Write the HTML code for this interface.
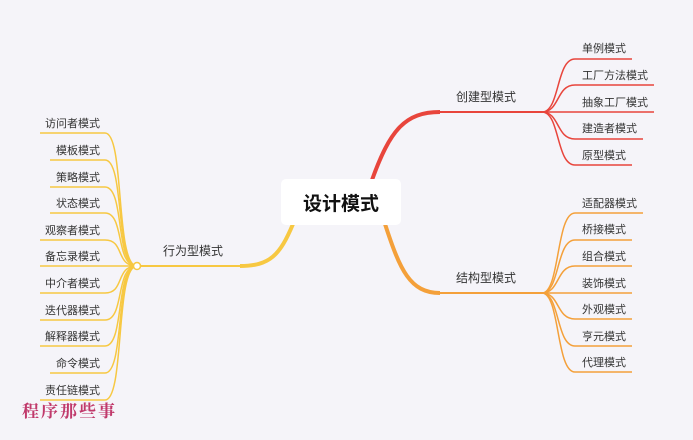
<!DOCTYPE html>
<html><head><meta charset="utf-8"><style>
html,body{margin:0;padding:0;background:#f5f4f9;}
svg{display:block;font-family:"Liberation Sans","Noto Sans CJK SC",sans-serif;}
</style></head><body>
<svg width="693" height="440" viewBox="0 0 693 440">
<rect width="693" height="440" fill="#f5f4f9"/>
<!-- main branches -->
<path d="M372,180 C390,130 405,112 440,112 L542,112" fill="none" stroke="#e8453c" stroke-width="2"/>
<path d="M372,180 C390,130 405,112 440,112" fill="none" stroke="#e8453c" stroke-width="4"/>
<path d="M385,224 C400,270 410,293 440,293 L542,293" fill="none" stroke="#f4a03a" stroke-width="2"/>
<path d="M385,224 C400,270 410,293 440,293" fill="none" stroke="#f4a03a" stroke-width="4"/>
<path d="M293,224 C280,255 270,266 240,266 L137,266" fill="none" stroke="#f7c842" stroke-width="2"/>
<path d="M293,224 C280,255 270,266 240,266" fill="none" stroke="#f7c842" stroke-width="4"/>
<g fill="none" stroke="#e8453c" stroke-width="1.5">
<path d="M542,112 C560,112 556,59 575,59 L632,59"/>
<path d="M542,112 C560,112 556,85 575,85 L654,85"/>
<path d="M542,112 L654,112"/>
<path d="M542,112 C560,112 556,139 575,139 L643,139"/>
<path d="M542,112 C560,112 556,165 575,165 L632,165"/>
</g>
<g fill="none" stroke="#f4a03a" stroke-width="1.5">
<path d="M542,293 C560,293 556,213 575,213 L643,213"/>
<path d="M542,293 C560,293 556,240 575,240 L632,240"/>
<path d="M542,293 C560,293 556,266 575,266 L632,266"/>
<path d="M542,293 L632,293"/>
<path d="M542,293 C560,293 556,319 575,319 L632,319"/>
<path d="M542,293 C560,293 556,346 575,346 L632,346"/>
<path d="M542,293 C560,293 556,372 575,372 L632,372"/>
</g>
<g fill="none" stroke="#f7c842" stroke-width="1.5">
<path d="M137,266 C115,266 125,133 105,133 L40,133"/>
<path d="M137,266 C115,266 125,160 105,160 L50,160"/>
<path d="M137,266 C115,266 125,187 105,187 L50,187"/>
<path d="M137,266 C115,266 125,213 105,213 L50,213"/>
<path d="M137,266 C115,266 125,240 105,240 L40,240"/>
<path d="M137,266 L40,266"/>
<path d="M137,266 C115,266 125,293 105,293 L40,293"/>
<path d="M137,266 C115,266 125,320 105,320 L40,320"/>
<path d="M137,266 C115,266 125,346 105,346 L40,346"/>
<path d="M137,266 C115,266 125,373 105,373 L50,373"/>
<path d="M137,266 C115,266 125,400 105,400 L40,400"/>
</g>
<circle cx="137" cy="266" r="3.5" fill="#fff" stroke="#f7c842" stroke-width="1.5"/>
<rect x="281" y="179" width="120" height="46" rx="5" fill="#fff"/>
<text x="341" y="210" text-anchor="middle" font-size="19" font-weight="bold" fill="#111">设计模式</text>
<g font-size="12" fill="#333">
<text x="456" y="101">创建型模式</text>
<text x="456" y="282">结构型模式</text>
<text x="163" y="255">行为型模式</text>
</g>
<g font-size="11" fill="#333">
<text x="582" y="52">单例模式</text>
<text x="582" y="79">工厂方法模式</text>
<text x="582" y="106">抽象工厂模式</text>
<text x="582" y="132">建造者模式</text>
<text x="582" y="159">原型模式</text>
<text x="582" y="207">适配器模式</text>
<text x="582" y="233">桥接模式</text>
<text x="582" y="260">组合模式</text>
<text x="582" y="287">装饰模式</text>
<text x="582" y="313">外观模式</text>
<text x="582" y="340">亨元模式</text>
<text x="582" y="366">代理模式</text>
</g>
<g font-size="11" fill="#333" text-anchor="end">
<text x="100" y="127">访问者模式</text>
<text x="100" y="154">模板模式</text>
<text x="100" y="181">策略模式</text>
<text x="100" y="207">状态模式</text>
<text x="100" y="234">观察者模式</text>
<text x="100" y="260">备忘录模式</text>
<text x="100" y="287">中介者模式</text>
<text x="100" y="314">迭代器模式</text>
<text x="100" y="340">解释器模式</text>
<text x="100" y="367">命令模式</text>
<text x="100" y="394">责任链模式</text>
</g>
<text x="22" y="417" font-size="17" font-weight="bold" fill="#c0396b" font-family="'Noto Serif CJK SC',serif" letter-spacing="2">程序那些事</text>
</svg>
</body></html>
